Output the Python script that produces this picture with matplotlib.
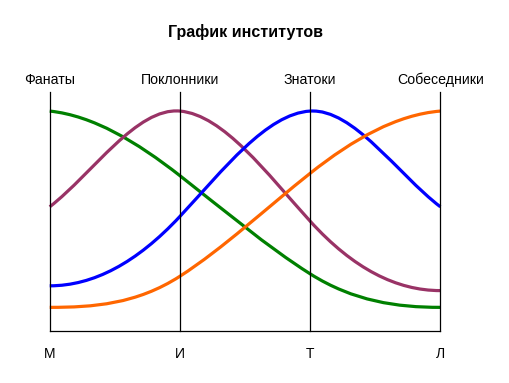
import numpy as np
import matplotlib
matplotlib.use("Agg")
import matplotlib.pyplot as plt
from matplotlib.path import Path
from matplotlib.patches import PathPatch

plt.rcParams['font.family'] = ['Liberation Sans', 'DejaVu Sans']

# categories (bottom) and group names (top)
bottom_labels = ["М", "И", "Т", "Л"]
top_labels = ["Фанаты", "Поклонники", "Знатоки", "Собеседники"]

# series values, 0..100 scale
green = [92, 65, 24, 10]
purple = [52, 92, 46, 17]
blue = [19, 48, 92, 52]
orange = [10, 23, 66, 92]

# (values, colour, curve tension)
series = [
    (green, "#008000", 1.25),
    (purple, "#993366", 1.6),
    (blue, "#0000ff", 1.6),
    (orange, "#ff6600", 1.25),
]


def smooth_path(xs, ys, k=1.0):
    # cubic bezier through the points (cardinal spline tangents)
    n = len(xs)
    m = np.zeros(n)
    for i in range(1, n - 1):
        m[i] = k * (ys[i + 1] - ys[i - 1]) / (xs[i + 1] - xs[i - 1])
    for e, nb, s in [(0, 1, 1), (n - 1, n - 2, -1)]:
        ch = (ys[e + s] - ys[e]) / (xs[e + s] - xs[e])
        t = ch - m[nb] / 2
        m[e] = t if t * ch > 0 else 0.0
    verts = [(xs[0], ys[0])]
    codes = [Path.MOVETO]
    for i in range(n - 1):
        h = xs[i + 1] - xs[i]
        verts += [(xs[i] + h / 3, ys[i] + m[i] * h / 3),
                  (xs[i + 1] - h / 3, ys[i + 1] - m[i + 1] * h / 3),
                  (xs[i + 1], ys[i + 1])]
        codes += [Path.CURVE4] * 3
    return Path(verts, codes)


fig = plt.figure(figsize=(5.10, 3.83), dpi=100)
ax = fig.add_axes([0.0975, 0.135, 0.766, 0.625])
ax.set_xlim(0, 3)
ax.set_ylim(0, 100)

x = np.arange(len(bottom_labels))
for vals, col, k in series:
    p = smooth_path(x.astype(float), np.array(vals, dtype=float), k)
    ax.add_patch(PathPatch(p, facecolor="none", edgecolor=col, lw=2.3,
                           clip_on=False, capstyle="butt"))

for xi in x[1:]:
    ax.axvline(xi, color="black", lw=0.9, clip_on=False)

for s in ["top", "right"]:
    ax.spines[s].set_visible(False)
ax.spines["left"].set_linewidth(0.9)
ax.spines["bottom"].set_linewidth(0.9)

ax.set_xticks(x)
ax.set_xticklabels(bottom_labels, fontsize=10)
ax.tick_params(axis="x", length=0, pad=11)
ax.set_yticks([])

for xi, lab in zip(x, top_labels):
    ax.text(xi, 1.02, lab, transform=ax.get_xaxis_transform(),
            ha="center", va="bottom", fontsize=10.2)

fig.text(0.482, 0.916, "График институтов", ha="center", va="center",
         fontsize=11.5, fontweight="bold")

fig.savefig("out.png", dpi=100)
